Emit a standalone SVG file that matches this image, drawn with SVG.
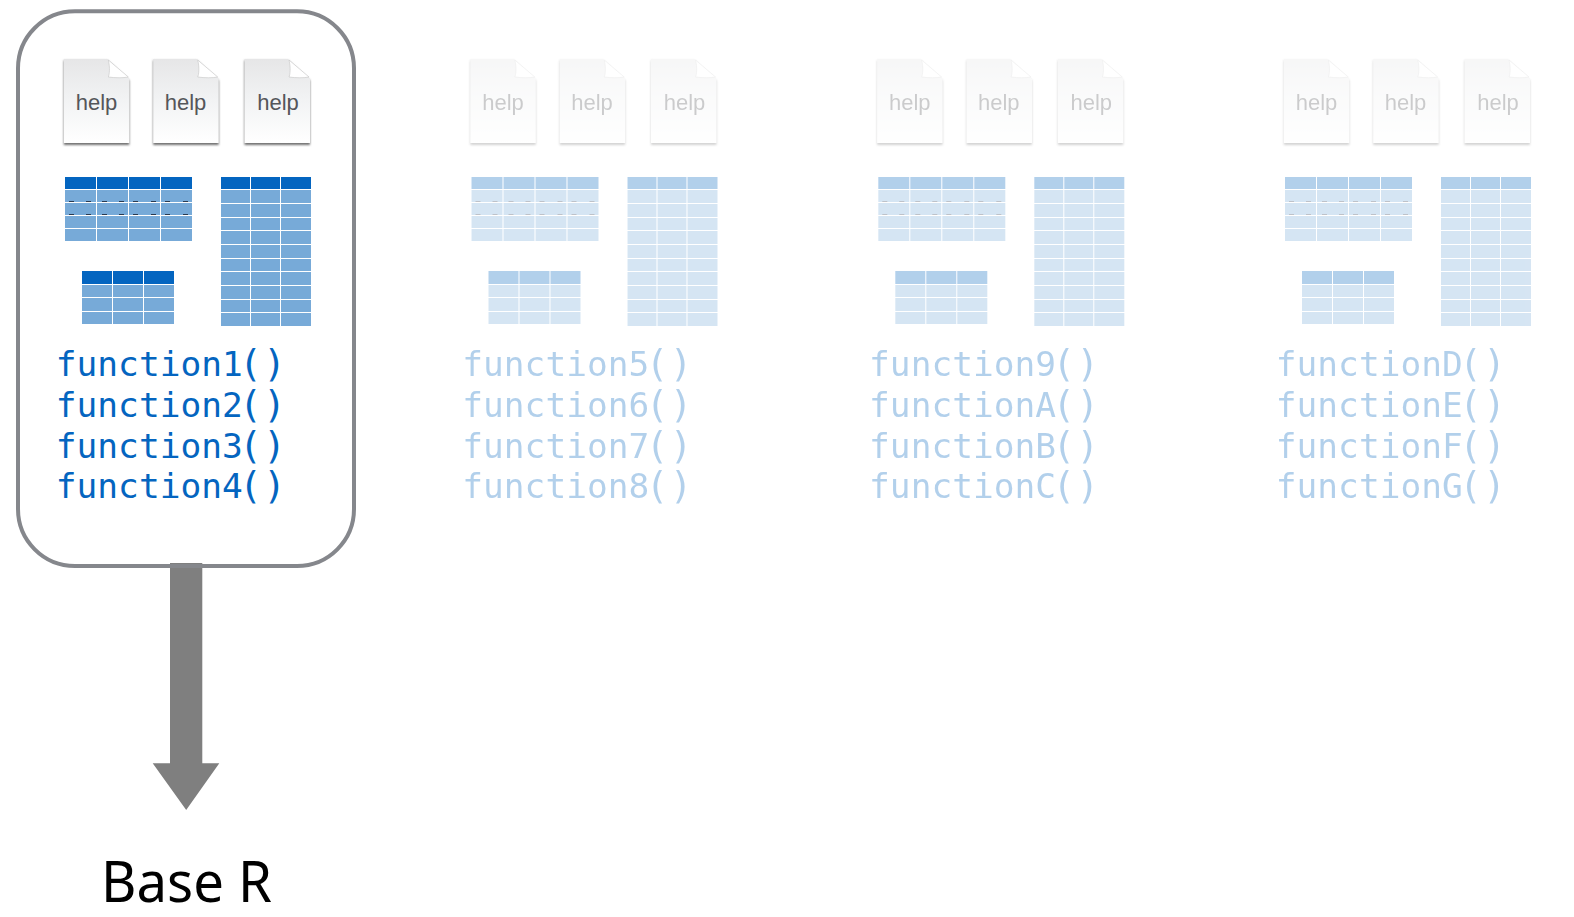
<svg xmlns="http://www.w3.org/2000/svg" xmlns:xlink="http://www.w3.org/1999/xlink" width="1574" height="917" viewBox="0 0 1574 917">
<style>
.help{font-family:"Liberation Sans",Arial,sans-serif;font-size:22px;fill:#55565a;text-anchor:middle}
.fn{font-family:"DejaVu Sans Mono","Liberation Mono",monospace;font-size:34.500px;fill:#0465c0}
.par{font-family:"DejaVu Sans",sans-serif;font-size:38px;letter-spacing:8px}
.hd{fill:#0465c0}.cell{fill:#77aad8}.dash{fill:#2a3a50}
.faded{opacity:.3}
</style>
<defs>
<linearGradient id="paper" x1="0" y1="0" x2="0" y2="1"><stop offset="0" stop-color="#e6e6e7"/><stop offset=".45" stop-color="#f1f2f3"/><stop offset="1" stop-color="#fff"/></linearGradient>
<filter id="soft" x="-20%" y="-20%" width="140%" height="140%"><feGaussianBlur stdDeviation="1"/></filter>
<g id="doc">
<path d="M.5 59H44L66 79V143.500H.5Z" transform="translate(0 1.500)" fill="#6f6f6f" filter="url(#soft)"/>
<path d="M.5 59H44L66 79V143H.5Z" fill="url(#paper)"/>
<path d="M45 60C47 68 46 75 45 77C52 78 60 78 65 77Z" fill="#fff" stroke="#c4c4c4" stroke-width=".6"/>
</g>
<g id="wide">
<path class="hd" d="M65 177h31v12H65zM97 177h31v12H97zM129 177h31v12h-31zM161 177h31v12h-31z"/>
<path class="cell" d="M65 190h31v12H65zM97 190h31v12H97zM129 190h31v12h-31zM161 190h31v12h-31zM65 203h31v12H65zM97 203h31v12H97zM129 203h31v12h-31zM161 203h31v12h-31zM65 216h31v12H65zM97 216h31v12H97zM129 216h31v12h-31zM161 216h31v12h-31zM65 229h31v12H65zM97 229h31v12H97zM129 229h31v12h-31zM161 229h31v12h-31z"/>
<path class="dash" d="M69 201h5v1h-5zM86 201h5v1h-5zM102 201h5v1h-5zM119 201h5v1h-5zM133 201h5v1h-5zM151 201h5v1h-5zM165 201h5v1h-5zM183 201h5v1h-5zM69 214h5v1h-5zM86 214h5v1h-5zM102 214h5v1h-5zM119 214h5v1h-5zM133 214h5v1h-5zM151 214h5v1h-5zM165 214h5v1h-5zM183 214h5v1h-5z"/>
</g>
<g id="small">
<path class="hd" d="M82 271h30v13H82zM113 271h30v13h-30zM144 271h30v13h-30z"/>
<path class="cell" d="M82 285h30v12H82zM113 285h30v12h-30zM144 285h30v12h-30zM82 298h30v13H82zM113 298h30v13h-30zM144 298h30v13h-30zM82 312h30v12H82zM113 312h30v12h-30zM144 312h30v12h-30z"/>
</g>
<g id="tall">
<path class="hd" d="M221 177h29v12h-29zM251 177h29v12h-29zM281 177h30v12h-30z"/>
<path class="cell" d="M221 190h29v13h-29zM251 190h29v13h-29zM281 190h30v13h-30zM221 204h29v13h-29zM251 204h29v13h-29zM281 204h30v13h-30zM221 218h29v12h-29zM251 218h29v12h-29zM281 218h30v12h-30zM221 231h29v13h-29zM251 231h29v13h-29zM281 231h30v13h-30zM221 245h29v13h-29zM251 245h29v13h-29zM281 245h30v13h-30zM221 259h29v12h-29zM251 259h29v12h-29zM281 259h30v12h-30zM221 272h29v13h-29zM251 272h29v13h-29zM281 272h30v13h-30zM221 286h29v13h-29zM251 286h29v13h-29zM281 286h30v13h-30zM221 300h29v12h-29zM251 300h29v12h-29zM281 300h30v12h-30zM221 313h29v13h-29zM251 313h29v13h-29zM281 313h30v13h-30z"/>
</g>
</defs>
<rect width="1574" height="917" fill="#fff"/>
<g id="connectors">
<path id="arrow" d="M170 563H202.300V763.300H219.300L186.200 810L152.700 763.300H170Z" fill="#7f7f7f"/>
</g>
<g id="panel-1">
<rect x="18" y="11.300" width="336" height="554.700" rx="57" ry="57" fill="none" stroke="#85878c" stroke-width="4"/>
<use xlink:href="#doc" href="#doc" x="63.300"/><use xlink:href="#doc" href="#doc" x="152.700"/><use xlink:href="#doc" href="#doc" x="244"/>
<text class="help" x="96.500" y="110">help</text><text class="help" x="185.500" y="110">help</text><text class="help" x="278" y="110">help</text>
<use xlink:href="#wide" href="#wide"/><use xlink:href="#small" href="#small"/><use xlink:href="#tall" href="#tall"/>
<text class="fn" x="55.800" y="376">function1<tspan class="par" dx="1">()</tspan></text><text class="fn" x="55.800" y="417">function2<tspan class="par" dx="1">()</tspan></text><text class="fn" x="55.800" y="458">function3<tspan class="par" dx="1">()</tspan></text><text class="fn" x="55.800" y="498">function4<tspan class="par" dx="1">()</tspan></text>
</g>
<g id="panel-2" class="faded" transform="translate(406.500 0)">
<use xlink:href="#doc" href="#doc" x="63.300"/><use xlink:href="#doc" href="#doc" x="152.700"/><use xlink:href="#doc" href="#doc" x="244"/>
<text class="help" x="96.500" y="110">help</text><text class="help" x="185.500" y="110">help</text><text class="help" x="278" y="110">help</text>
<use xlink:href="#wide" href="#wide"/><use xlink:href="#small" href="#small"/><use xlink:href="#tall" href="#tall"/>
<text class="fn" x="55.800" y="376">function5<tspan class="par" dx="1">()</tspan></text><text class="fn" x="55.800" y="417">function6<tspan class="par" dx="1">()</tspan></text><text class="fn" x="55.800" y="458">function7<tspan class="par" dx="1">()</tspan></text><text class="fn" x="55.800" y="498">function8<tspan class="par" dx="1">()</tspan></text>
</g>
<g id="panel-3" class="faded" transform="translate(813.300 0)">
<use xlink:href="#doc" href="#doc" x="63.300"/><use xlink:href="#doc" href="#doc" x="152.700"/><use xlink:href="#doc" href="#doc" x="244"/>
<text class="help" x="96.500" y="110">help</text><text class="help" x="185.500" y="110">help</text><text class="help" x="278" y="110">help</text>
<use xlink:href="#wide" href="#wide"/><use xlink:href="#small" href="#small"/><use xlink:href="#tall" href="#tall"/>
<text class="fn" x="55.800" y="376">function9<tspan class="par" dx="1">()</tspan></text><text class="fn" x="55.800" y="417">functionA<tspan class="par" dx="1">()</tspan></text><text class="fn" x="55.800" y="458">functionB<tspan class="par" dx="1">()</tspan></text><text class="fn" x="55.800" y="498">functionC<tspan class="par" dx="1">()</tspan></text>
</g>
<g id="panel-4" class="faded" transform="translate(1220 0)">
<use xlink:href="#doc" href="#doc" x="63.300"/><use xlink:href="#doc" href="#doc" x="152.700"/><use xlink:href="#doc" href="#doc" x="244"/>
<text class="help" x="96.500" y="110">help</text><text class="help" x="185.500" y="110">help</text><text class="help" x="278" y="110">help</text>
<use xlink:href="#wide" href="#wide"/><use xlink:href="#small" href="#small"/><use xlink:href="#tall" href="#tall"/>
<text class="fn" x="55.800" y="376">functionD<tspan class="par" dx="1">()</tspan></text><text class="fn" x="55.800" y="417">functionE<tspan class="par" dx="1">()</tspan></text><text class="fn" x="55.800" y="458">functionF<tspan class="par" dx="1">()</tspan></text><text class="fn" x="55.800" y="498">functionG<tspan class="par" dx="1">()</tspan></text>
</g>
<g id="label-base-r">
<text x="186.500" y="901.500" font-family="'Noto Sans','Open Sans',sans-serif" font-size="56" fill="#000" text-anchor="middle" textLength="171" lengthAdjust="spacingAndGlyphs">Base R</text>
</g>
</svg>
